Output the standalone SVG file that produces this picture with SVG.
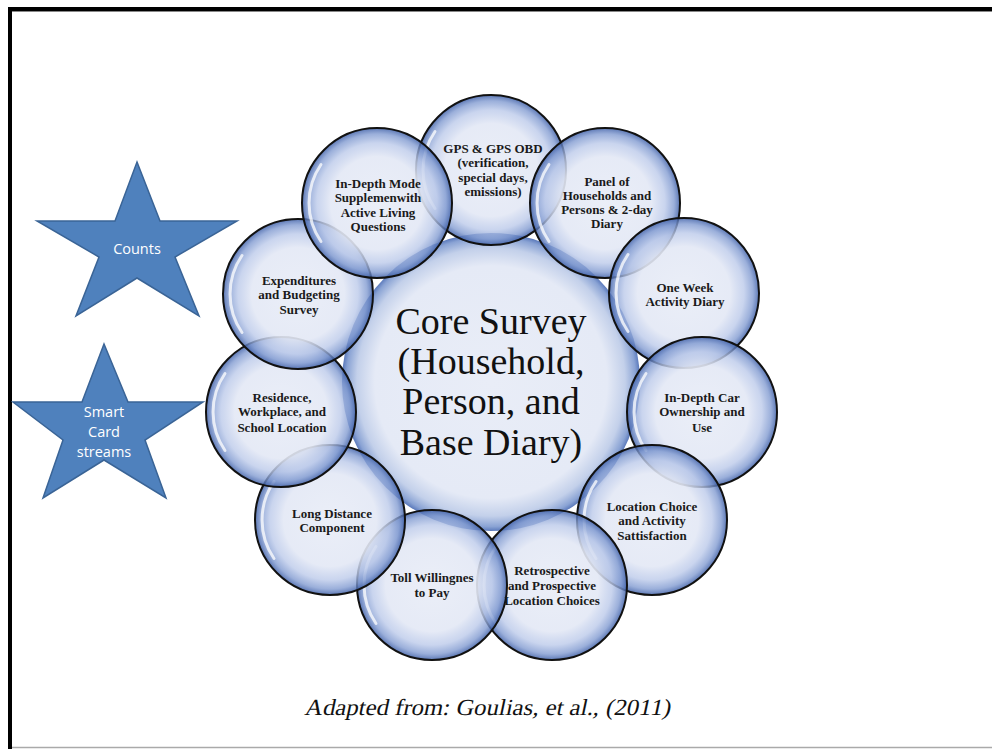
<svg xmlns="http://www.w3.org/2000/svg" xmlns:xlink="http://www.w3.org/1999/xlink" width="992" height="749" viewBox="0 0 992 749">
<style>
.bub{fill:url(#bg);stroke:#111;stroke-width:2}
.core{fill:url(#cg)}
.hl{fill:none;stroke:#fff;stroke-width:3;stroke-linecap:round;opacity:0.75}
.t{font-family:"Liberation Serif","DejaVu Serif",serif;font-weight:bold;font-size:13px;fill:#1a1a1a;text-anchor:middle}
.ct{font-family:"Liberation Serif","DejaVu Serif",serif;font-size:38px;fill:#111;text-anchor:middle}
.star{fill:#4f81bd;stroke:#3a6496;stroke-width:1.5}
.st{font-family:"Open Sans","Liberation Sans",sans-serif;font-size:14.5px;fill:#fff;text-anchor:middle}
.cap{font-family:"Liberation Serif","DejaVu Serif",serif;font-size:23px;fill:#111;text-anchor:middle}
</style>
<defs>
<radialGradient id="bg" cx="0.5" cy="0.5" r="0.5">
<stop offset="0" stop-color="#e9edf7" stop-opacity="0.93"/>
<stop offset="0.62" stop-color="#e3e8f5" stop-opacity="0.9"/>
<stop offset="0.8" stop-color="#bccaea" stop-opacity="0.8"/>
<stop offset="0.92" stop-color="#7f99d0" stop-opacity="0.78"/>
<stop offset="1" stop-color="#3f60a8" stop-opacity="0.85"/>
</radialGradient>
<radialGradient id="cg" cx="0.5" cy="0.5" r="0.5">
<stop offset="0" stop-color="#e9edf7"/>
<stop offset="0.78" stop-color="#e5eaf6"/>
<stop offset="0.9" stop-color="#c3d0ea"/>
<stop offset="0.97" stop-color="#8aa3d4"/>
<stop offset="1" stop-color="#5a79bb"/>
</radialGradient>
<path id="hl" class="hl" d="M -56 -38.5 A 68 68 0 0 0 -56 38.5"/>
</defs>
<rect width="992" height="749" fill="#fff"/>
<g id="frame">
<rect x="8" y="7" width="984" height="4" fill="#000"/>
<rect x="8" y="7" width="4" height="742" fill="#000"/>
<line x1="12" y1="11.5" x2="992" y2="11.5" stroke="#888" stroke-width="1"/>
<line x1="12" y1="747.5" x2="992" y2="747.5" stroke="#aaa" stroke-width="1.5"/>
</g>
<g id="connectors"></g>
<g id="core">
<circle class="core" cx="491" cy="382" r="149"/>
<text class="ct" x="491" y="334">Core Survey</text>
<text class="ct" x="491" y="374">(Household,</text>
<text class="ct" x="491" y="414">Person, and</text>
<text class="ct" x="491" y="455">Base Diary)</text>
</g>
<g id="n-gps"><circle class="bub" cx="491" cy="170" r="75"/><use xlink:href="#hl" x="491" y="170"/></g>
<g id="n-panel"><circle class="bub" cx="605" cy="203" r="75"/><use xlink:href="#hl" x="605" y="203"/></g>
<g id="n-week"><circle class="bub" cx="684" cy="293" r="75"/><use xlink:href="#hl" x="684" y="293"/></g>
<g id="n-car"><circle class="bub" cx="702" cy="412" r="75"/><use xlink:href="#hl" x="702" y="412"/></g>
<g id="n-loc"><circle class="bub" cx="652" cy="520" r="75"/><use xlink:href="#hl" x="652" y="520"/></g>
<g id="n-retro"><circle class="bub" cx="552" cy="585" r="75"/><use xlink:href="#hl" x="552" y="585"/></g>
<g id="n-toll"><circle class="bub" cx="432" cy="585" r="75"/><use xlink:href="#hl" x="432" y="585"/></g>
<g id="n-long"><circle class="bub" cx="330" cy="520" r="75"/><use xlink:href="#hl" x="330" y="520"/></g>
<g id="n-res"><circle class="bub" cx="281" cy="412" r="75"/><use xlink:href="#hl" x="281" y="412"/></g>
<g id="n-exp"><circle class="bub" cx="298" cy="294" r="75"/><use xlink:href="#hl" x="298" y="294"/></g>
<g id="n-mode"><circle class="bub" cx="377" cy="203" r="75"/><use xlink:href="#hl" x="377" y="203"/></g>
<g id="labels">
<text class="t" x="493" y="153">GPS &amp; GPS OBD</text>
<text class="t" x="493" y="167">(verification,</text>
<text class="t" x="493" y="182">special days,</text>
<text class="t" x="493" y="196">emissions)</text>
<text class="t" x="607" y="186">Panel of</text>
<text class="t" x="607" y="200">Households and</text>
<text class="t" x="607" y="214">Persons &amp; 2-day</text>
<text class="t" x="607" y="228">Diary</text>
<text class="t" x="685" y="292">One Week</text>
<text class="t" x="685" y="306">Activity Diary</text>
<text class="t" x="702" y="402">In-Depth Car</text>
<text class="t" x="702" y="416">Ownership and</text>
<text class="t" x="702" y="432">Use</text>
<text class="t" x="652" y="511">Location Choice</text>
<text class="t" x="652" y="525">and Activity</text>
<text class="t" x="652" y="540">Sattisfaction</text>
<text class="t" x="552" y="575">Retrospective</text>
<text class="t" x="552" y="590">and Prospective</text>
<text class="t" x="552" y="605">Location Choices</text>
<text class="t" x="432" y="582">Toll Willingnes</text>
<text class="t" x="432" y="597">to Pay</text>
<text class="t" x="332" y="518">Long Distance</text>
<text class="t" x="332" y="532">Component</text>
<text class="t" x="282" y="402">Residence,</text>
<text class="t" x="282" y="416">Workplace, and</text>
<text class="t" x="282" y="432">School Location</text>
<text class="t" x="299" y="285">Expenditures</text>
<text class="t" x="299" y="299">and Budgeting</text>
<text class="t" x="299" y="314">Survey</text>
<text class="t" x="378" y="188">In-Depth Mode</text>
<text class="t" x="378" y="202">Supplemenwith</text>
<text class="t" x="378" y="217">Active Living</text>
<text class="t" x="378" y="231">Questions</text>
</g>
<g id="star-counts">
<polygon class="star" points="137,162 160,221 237,221 175,257 199,316 137,278 76,316 99,257 37,221 115,221"/>
<text class="st" x="137" y="254">Counts</text>
</g>
<g id="star-smart">
<polygon class="star" points="104,344 128,402 203,402 145,440 166,498 104,460 43,498 63,440 13,402 82,402"/>
<text class="st" x="104" y="417">Smart</text>
<text class="st" x="104" y="437">Card</text>
<text class="st" x="104" y="457">streams</text>
</g>
<g id="caption" transform="translate(487,715) skewX(-12)">
<text class="cap" x="0" y="0" textLength="366" lengthAdjust="spacingAndGlyphs">Adapted from: Goulias, et al., (2011)</text>
</g>
</svg>
